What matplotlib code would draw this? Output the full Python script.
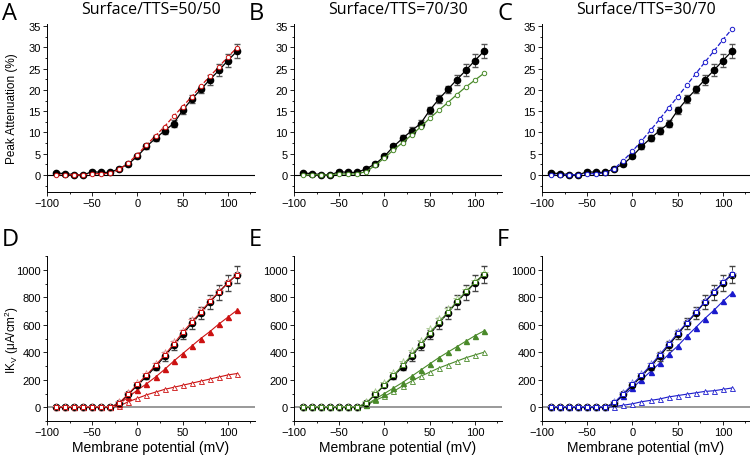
import matplotlib
matplotlib.use('Agg')
from matplotlib import pyplot as plt
from matplotlib.ticker import MultipleLocator

plt.rcParams['font.family'] = ['Liberation Sans', 'DejaVu Sans']

# membrane potential (mV)
v = [-90, -80, -70, -60, -50, -40, -30, -20, -10, 0, 10, 20, 30, 40, 50, 60, 70, 80, 90, 100, 110]

# peak attenuation (%) - control (black)
att_ctrl = [0.5, 0.3, 0.1, 0.0, 0.8, 0.6, 0.6, 1.5, 2.6, 4.4, 6.7, 8.6, 10.4, 12.1, 15.2, 17.8, 20.1, 22.4, 24.6, 26.9, 29.1]
att_ctrl_err = [0.2, 0.2, 0.2, 0.2, 0.3, 0.3, 0.3, 0.3, 0.4, 0.4, 0.6, 0.7, 0.8, 0.9, 0.9, 0.9, 0.9, 1.2, 1.4, 1.5, 1.7]
att_50 = [0.0, 0.1, 0.0, 0.0, 0.3, 0.3, 0.4, 1.3, 2.9, 4.8, 7.1, 9.2, 11.4, 13.8, 16.1, 18.4, 20.9, 23.2, 25.4, 27.8, 29.9]
att_70 = [-0.1, 0.1, 0.0, 0.0, 0.3, 0.2, 0.3, 0.8, 2.3, 4.0, 5.9, 7.6, 9.4, 11.3, 13.3, 15.2, 17.0, 18.9, 20.7, 22.3, 23.9]
att_30 = [0.0, 0.1, 0.0, 0.1, 0.3, 0.3, 0.5, 1.5, 3.4, 5.6, 8.0, 10.5, 13.1, 15.8, 18.4, 21.1, 23.8, 26.5, 29.1, 31.8, 34.3]

# IKv (uA/cm2)
ik_ctrl = [0, 0, 0, 0, 0, 0, 0, 30, 95, 160, 225, 295, 370, 450, 530, 610, 685, 765, 835, 905, 965]
ik_ctrl_err = [5, 5, 5, 5, 5, 5, 5, 8, 12, 15, 20, 25, 30, 35, 35, 40, 45, 50, 55, 60, 60]

ik_50_sum = [0, 0, 0, 0, 0, 0, 0, 32, 98, 168, 235, 305, 380, 460, 545, 620, 695, 770, 840, 905, 965]
ik_50_star = [0, 0, 0, 0, 0, 0, 0, 38, 105, 178, 245, 318, 395, 475, 555, 632, 705, 780, 848, 912, 968]
ik_50_surf = [0, 0, 0, 0, 0, 0, 0, 25, 75, 125, 170, 220, 275, 335, 390, 445, 500, 550, 605, 655, 705]
ik_50_tts = [0, 0, 0, 0, 0, 0, 0, 10, 40, 65, 90, 110, 130, 145, 160, 175, 190, 205, 220, 235, 245]

ik_70_sum = [0, 0, 0, 0, 0, 0, 0, 32, 98, 165, 232, 305, 380, 458, 540, 618, 692, 770, 842, 910, 968]
ik_70_star = [0, 0, 0, 0, 0, 0, 0, 40, 110, 178, 250, 328, 408, 485, 568, 645, 712, 785, 855, 918, 975]
ik_70_surf = [0, 0, 0, 0, 0, 0, 0, 20, 60, 100, 140, 180, 225, 270, 315, 360, 400, 440, 480, 520, 555]
ik_70_tts = [0, 0, 0, 0, 0, 0, 0, 15, 50, 80, 115, 155, 190, 225, 255, 285, 310, 335, 360, 380, 400]

ik_30_sum = [0, 0, 0, 0, 0, 0, 0, 35, 100, 168, 235, 305, 382, 460, 540, 615, 690, 768, 840, 908, 968]
ik_30_star = [0, 0, 0, 0, 0, 0, 0, 40, 105, 175, 242, 312, 390, 468, 548, 622, 698, 775, 848, 915, 972]
ik_30_surf = [0, 0, 0, 0, 0, 0, 0, 30, 85, 140, 200, 260, 320, 385, 445, 515, 580, 645, 705, 770, 830]
ik_30_tts = [0, 0, 0, 0, 0, 0, 0, 5, 15, 25, 40, 50, 60, 75, 85, 95, 105, 115, 120, 130, 140]

titles = ['Surface/TTS=50/50', 'Surface/TTS=70/30', 'Surface/TTS=30/70']
letters = ['A', 'B', 'C', 'D', 'E', 'F']
colors = ['#cc1111', '#4a8a2a', '#1a1acc']
light = ['#e89090', '#a8c890', '#8888e0']
att_sets = [att_50, att_70, att_30]
att_dash = ['--', '-', '--']
ik_sets = [(ik_50_sum, ik_50_star, ik_50_surf, ik_50_tts),
           (ik_70_sum, ik_70_star, ik_70_surf, ik_70_tts),
           (ik_30_sum, ik_30_star, ik_30_surf, ik_30_tts)]

fig = plt.figure(figsize=(7.5, 4.56), dpi=100)
lefts = [47/750, 294/750, 542/750]
w = 208/750


def style_ax(ax):
    ax.spines['top'].set_visible(False)
    ax.spines['right'].set_visible(False)
    ax.spines['left'].set_linewidth(0.7)
    ax.spines['bottom'].set_linewidth(0.7)
    ax.tick_params(which='both', direction='out', labelsize=8, width=0.6, pad=1.5)
    ax.tick_params(which='major', length=3)
    ax.tick_params(which='minor', length=1.5)
    ax.set_xlim(-100, 130)
    ax.xaxis.set_major_locator(MultipleLocator(50))
    ax.xaxis.set_minor_locator(MultipleLocator(25))


for i in range(3):
    c = colors[i]
    # top row: peak attenuation
    ax = fig.add_axes([lefts[i], 1 - 193/456, w, 168/456])
    style_ax(ax)
    ax.set_ylim(-4, 35.5)
    ax.yaxis.set_major_locator(MultipleLocator(5))
    ax.yaxis.set_minor_locator(MultipleLocator(2.5))
    ax.axhline(0, color='black', lw=0.8, zorder=1)
    ax.errorbar(v, att_ctrl, yerr=att_ctrl_err, color='black', ecolor='#555555', lw=0.9,
                marker='o', ms=4.5, mfc='black', mec='black', capsize=2, elinewidth=0.7, zorder=3)
    ax.plot(v, att_sets[i], color=c, ls=att_dash[i], lw=0.9, marker='o', ms=3.2,
            mfc='white', mec=c, mew=0.7, zorder=4)
    ax.set_title(titles[i], fontsize=11.5, family=['Open Sans', 'DejaVu Sans'], pad=8)
    if i == 0:
        ax.set_ylabel('Peak Attenuation (%)', fontsize=8.5)
        ax.yaxis.set_label_coords(-0.14, 0.5)
    fig.text(lefts[i] - 47/750 + 2/750, 1 - 2/456, letters[i], fontsize=17,
             family=['Open Sans', 'DejaVu Sans'], va='top', ha='left')

    # bottom row: IKv
    s_sum, s_star, s_surf, s_tts = ik_sets[i]
    ax = fig.add_axes([lefts[i], 1 - 422/456, w, 165/456])
    style_ax(ax)
    ax.set_ylim(-100, 1100)
    ax.yaxis.set_major_locator(MultipleLocator(200))
    ax.yaxis.set_minor_locator(MultipleLocator(100))
    ax.axhline(0, color='#888888', lw=1.2, zorder=1)
    ax.plot(v, s_tts, color=c, lw=0.8, marker='^', ms=3.6, mfc='white', mec=c, mew=0.6, zorder=3)
    ax.plot(v, s_surf, color=c, lw=0.8, marker='^', ms=3.6, mfc=c, mec=c, zorder=3)
    ax.errorbar(v, ik_ctrl, yerr=ik_ctrl_err, color='black', ecolor='#444444', lw=0.9,
                marker='o', ms=4.5, mfc='black', mec='black', capsize=2, elinewidth=0.7, zorder=4)
    ax.plot(v, s_star, ls='none', marker='*', ms=5.5, mfc='white', mec=light[i], mew=0.6, zorder=5)
    ax.plot(v, s_sum, color=c, lw=0.7, marker='s', ms=3.2, mfc='white', mec=c, mew=0.7, zorder=6)
    ax.set_xlabel('Membrane potential (mV)', fontsize=10, labelpad=2)
    if i == 0:
        ax.set_ylabel(r'IK$_\mathregular{V}$ ($\mathregular{\mu}$A/cm$^\mathregular{2}$)', fontsize=8.5)
        ax.yaxis.set_label_coords(-0.125, 0.5)
    fig.text(lefts[i] - 47/750 + 2/750, 1 - 228/456, letters[i + 3], fontsize=17,
             family=['Open Sans', 'DejaVu Sans'], va='top', ha='left')

fig.savefig('out.png', dpi=100)
